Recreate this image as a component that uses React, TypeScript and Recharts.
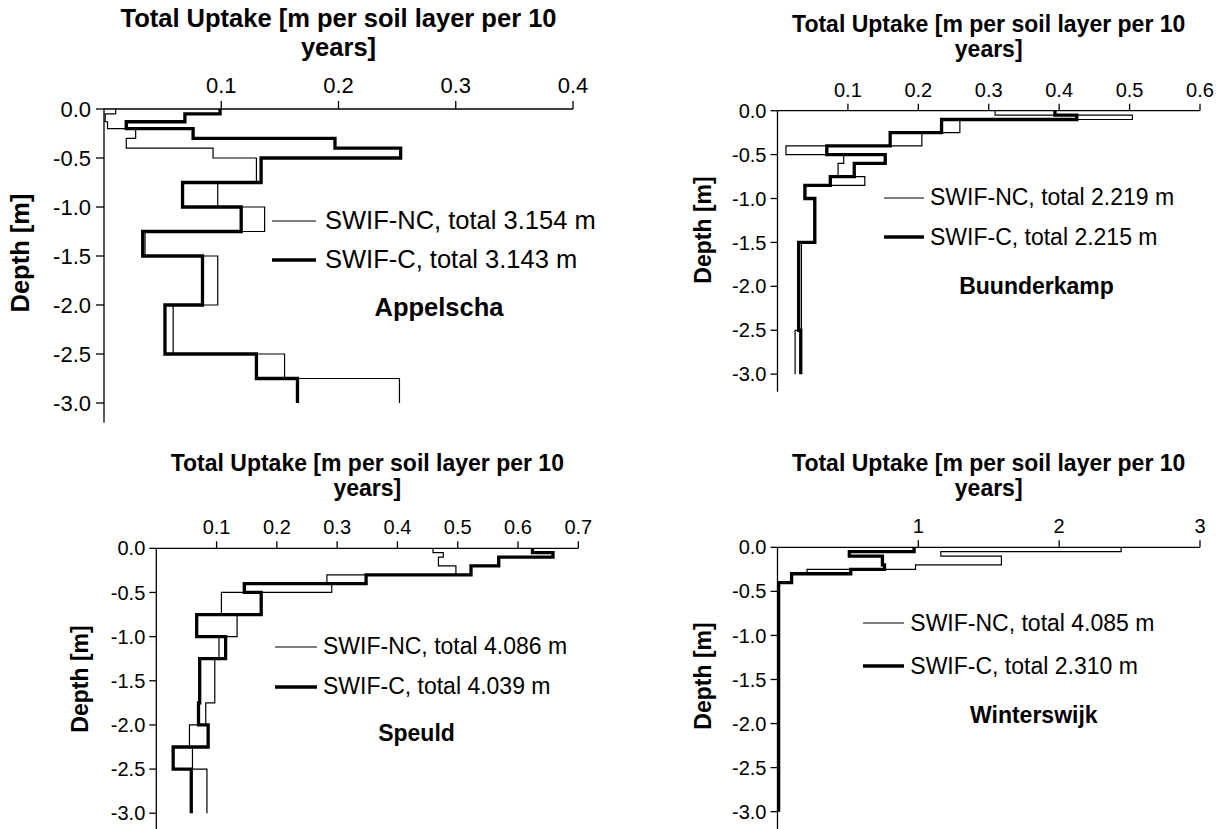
import React from 'react';
import { LineChart, Line, XAxis, YAxis, Legend } from 'recharts';

const FONT = "'Liberation Sans', Arial, Helvetica, sans-serif";

const depthTicks = [0, -0.5, -1, -1.5, -2, -2.5, -3];
const titleLines = ['Total Uptake [m per soil layer per 10', 'years]'];

// layer boundaries (m) and uptake per layer
const appelschaLayers = [0, -0.05, -0.13, -0.2, -0.3, -0.4, -0.5, -0.75, -1, -1.25, -1.5, -2, -2.5, -2.75, -3];
const appelschaNC = [0.01, 0.001, 0.003, 0.027, 0.019, 0.093, 0.13, 0.097, 0.137, 0.035, 0.097, 0.059, 0.154, 0.252];
const appelschaC = [0.099, 0.069, 0.019, 0.076, 0.197, 0.253, 0.134, 0.067, 0.117, 0.033, 0.084, 0.052, 0.13, 0.165];
const appelschaTicks = [0.1, 0.2, 0.3, 0.4];

const buunderkampLayers = [0, -0.05, -0.1, -0.25, -0.4, -0.5, -0.6, -0.75, -0.85, -1, -1.5, -2.5, -3];
const buunderkampNC = [0.309, 0.504, 0.259, 0.205, 0.012, 0.094, 0.086, 0.124, 0.038, 0.052, 0.034, 0.025];
const buunderkampC = [0.394, 0.425, 0.233, 0.16, 0.07, 0.153, 0.109, 0.075, 0.039, 0.053, 0.03, 0.033];
const buunderkampTicks = [0.1, 0.2, 0.3, 0.4, 0.5, 0.6];

const speuldLayers = [0, -0.05, -0.1, -0.2, -0.3, -0.4, -0.5, -0.75, -1, -1.25, -1.75, -2, -2.25, -2.5, -3];
const speuldNC = [0.459, 0.476, 0.468, 0.497, 0.283, 0.291, 0.108, 0.134, 0.104, 0.097, 0.082, 0.055, 0.06, 0.084];
const speuldC = [0.624, 0.658, 0.568, 0.522, 0.348, 0.146, 0.174, 0.067, 0.115, 0.072, 0.07, 0.086, 0.028, 0.058];
const speuldTicks = [0.1, 0.2, 0.3, 0.4, 0.5, 0.6, 0.7];

const winterswijkLayers = [0, -0.05, -0.1, -0.2, -0.25, -0.3, -0.4, -3];
const winterswijkNC = [2.44, 1.16, 1.59, 0.98, 0.21, 0.1, 0.005];
const winterswijkC = [0.97, 0.51, 0.745, 0.76, 0.52, 0.1, 0.008];
const winterswijkTicks = [1, 2, 3];

const THIN = 1.2;
const THICK = 3.3;

const toSteps = (layers: number[], values: number[]) =>
  values.flatMap((v, i) => [
    { x: v, y: layers[i] },
    { x: v, y: layers[i + 1] },
  ]);

const panels = [
  {
    site: 'Appelscha', layers: appelschaLayers, nc: appelschaNC, c: appelschaC,
    ncName: 'SWIF-NC, total 3.154 m', cName: 'SWIF-C, total 3.143 m',
    xMax: 0.4, xTicks: appelschaTicks, fmt: (v: number) => v.toFixed(1),
    box: { x: 0, y: 0, w: 610, h: 440 }, plot: { x: 104, y: 109, w: 469, h: 313.6 },
    tickFont: 22, font: 25.5, tickSize: 8, xMargin: 8, yMargin: 5,
    title: { cx: 338.5, top: 3.7, lh: 29 },
    legend: { x: 272, y: 201.5, row: 39, sample: 44, gap: 9 },
    siteAt: { cx: 439, cy: 308 }, depthAt: { cx: 21, cy: 253 },
  },
  {
    site: 'Buunderkamp', layers: buunderkampLayers, nc: buunderkampNC, c: buunderkampC,
    ncName: 'SWIF-NC, total 2.219 m', cName: 'SWIF-C, total 2.215 m',
    xMax: 0.6, xTicks: buunderkampTicks, fmt: (v: number) => v.toFixed(1),
    box: { x: 680, y: 0, w: 540, h: 420 }, plot: { x: 777.5, y: 110.7, w: 422.5, h: 281 },
    tickFont: 20, font: 23, tickSize: 7, xMargin: 7, yMargin: 4,
    title: { cx: 988.7, top: 12, lh: 25 },
    legend: { x: 884, y: 177.9, row: 39.6, sample: 40, gap: 6 },
    siteAt: { cx: 1036.5, cy: 286 }, depthAt: { cx: 703, cy: 230 },
  },
  {
    site: 'Speuld', layers: speuldLayers, nc: speuldNC, c: speuldC,
    ncName: 'SWIF-NC, total 4.086 m', cName: 'SWIF-C, total 4.039 m',
    xMax: 0.7, xTicks: speuldTicks, fmt: (v: number) => v.toFixed(1),
    box: { x: 0, y: 420, w: 600, h: 420 }, plot: { x: 156.3, y: 548.3, w: 422, h: 282.6 },
    tickFont: 20, font: 23, tickSize: 7, xMargin: 7, yMargin: 4,
    title: { cx: 367.3, top: 451, lh: 25 },
    legend: { x: 275, y: 626.7, row: 40, sample: 42, gap: 6 },
    siteAt: { cx: 416.5, cy: 733 }, depthAt: { cx: 80, cy: 678.5 },
  },
  {
    site: 'Winterswijk', layers: winterswijkLayers, nc: winterswijkNC, c: winterswijkC,
    ncName: 'SWIF-NC, total 4.085 m', cName: 'SWIF-C, total 2.310 m',
    xMax: 3, xTicks: winterswijkTicks, fmt: (v: number) => String(v),
    box: { x: 680, y: 420, w: 540, h: 420 }, plot: { x: 777.5, y: 547.3, w: 422.5, h: 282 },
    tickFont: 20, font: 23, tickSize: 7, xMargin: 7, yMargin: 4,
    title: { cx: 988.7, top: 451, lh: 25 },
    legend: { x: 863.3, y: 602, row: 42.7, sample: 41, gap: 6 },
    siteAt: { cx: 1033.8, cy: 715 }, depthAt: { cx: 703, cy: 676 },
  },
];

// legend keeps the thin (NC) series first, as in the figure
const SeriesKey = ({ payload, p }: any) => {
  const items = [...(payload || [])].sort((a: any, b: any) =>
    a.value === p.ncName ? -1 : b.value === p.ncName ? 1 : 0
  );
  return (
    <div style={{ fontFamily: FONT, fontSize: p.font, color: '#000', whiteSpace: 'nowrap' }}>
      {items.map((entry: any) => (
        <div key={entry.value} style={{ display: 'flex', alignItems: 'center', height: p.legend.row }}>
          <svg width={p.legend.sample} height={6} style={{ display: 'block' }}>
            <line
              x1={0}
              x2={p.legend.sample}
              y1={3}
              y2={3}
              stroke="#000"
              strokeWidth={entry.value === p.ncName ? THIN : THICK}
            />
          </svg>
          <span style={{ marginLeft: p.legend.gap, lineHeight: 1 }}>{entry.value}</span>
        </div>
      ))}
    </div>
  );
};

const Panel = ({ p }: any) => {
  const { box, plot } = p;
  const margin = {
    top: plot.y - box.y - 40,
    left: plot.x - box.x - 60,
    right: box.x + box.w - plot.x - plot.w,
    bottom: box.y + box.h - plot.y - plot.h,
  };
  const tick = { fill: '#000', fontSize: p.tickFont, fontFamily: FONT };
  const axisLine = { stroke: '#000', strokeWidth: 1.3 };
  return (
    <div style={{ position: 'absolute', left: box.x, top: box.y, width: box.w, height: box.h }}>
      <LineChart width={box.w} height={box.h} margin={margin}>
        <XAxis
          orientation="top"
          type="number"
          dataKey="x"
          domain={[0, p.xMax]}
          ticks={p.xTicks}
          tickFormatter={p.fmt}
          height={40}
          tick={tick}
          tickSize={p.tickSize}
          tickMargin={p.xMargin}
          axisLine={axisLine}
          tickLine={axisLine}
          interval={0}
        />
        <YAxis
          type="number"
          domain={[-3.2, 0]}
          ticks={depthTicks}
          tickFormatter={(v: number) => v.toFixed(1)}
          width={60}
          tick={tick}
          tickSize={p.tickSize}
          tickMargin={p.yMargin}
          axisLine={axisLine}
          tickLine={axisLine}
          interval={0}
        />
        <Line
          data={toSteps(p.layers, p.nc)}
          dataKey="y"
          name={p.ncName}
          type="linear"
          stroke="#000"
          strokeWidth={THIN}
          dot={false}
          activeDot={false}
          isAnimationActive={false}
        />
        <Line
          data={toSteps(p.layers, p.c)}
          dataKey="y"
          name={p.cName}
          type="linear"
          stroke="#000"
          strokeWidth={THICK}
          strokeLinejoin="miter"
          dot={false}
          activeDot={false}
          isAnimationActive={false}
        />
        <Legend
          layout="vertical"
          align="center"
          verticalAlign="middle"
          wrapperStyle={{ left: p.legend.x - box.x, top: p.legend.y - box.y, width: 'auto' }}
          content={(props: any) => <SeriesKey payload={props.payload} p={p} />}
        />
      </LineChart>
      <div
        style={{
          position: 'absolute', left: p.title.cx - box.x - 300, top: p.title.top - box.y, width: 600,
          textAlign: 'center', fontFamily: FONT, fontWeight: 'bold', fontSize: p.font, lineHeight: `${p.title.lh}px`,
        }}
      >
        {titleLines.map((t) => (
          <div key={t}>{t}</div>
        ))}
      </div>
      <div
        style={{
          position: 'absolute', left: p.siteAt.cx - box.x, top: p.siteAt.cy - box.y,
          transform: 'translate(-50%, -50%)', fontFamily: FONT, fontWeight: 'bold', fontSize: p.font,
          lineHeight: 1, whiteSpace: 'nowrap',
        }}
      >
        {p.site}
      </div>
      <div
        style={{
          position: 'absolute', left: p.depthAt.cx - box.x, top: p.depthAt.cy - box.y,
          transform: 'translate(-50%, -50%) rotate(-90deg)', fontFamily: FONT, fontWeight: 'bold',
          fontSize: p.font, lineHeight: 1, whiteSpace: 'nowrap',
        }}
      >
        Depth [m]
      </div>
    </div>
  );
};

export default function App() {
  return (
    <div
      style={{
        position: 'absolute', left: 0, top: 0, width: 1220, height: 829,
        overflow: 'hidden', background: '#fff',
      }}
    >
      {panels.map((p) => (
        <Panel key={p.site} p={p} />
      ))}
    </div>
  );
}
